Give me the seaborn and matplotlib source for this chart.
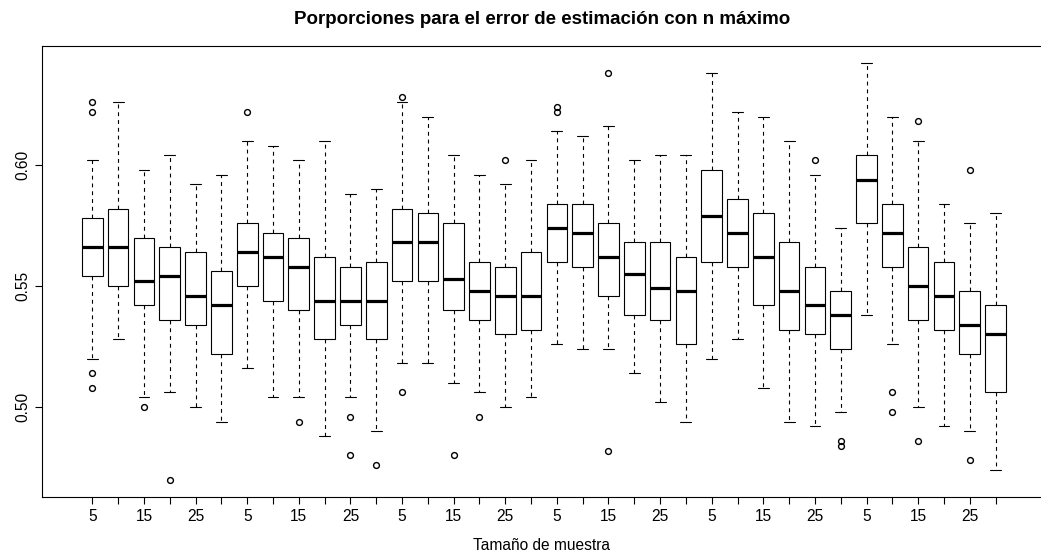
import numpy as np
import pandas as pd
import matplotlib
matplotlib.use("Agg")
import matplotlib.pyplot as plt
import seaborn as sns

# ---- data ----
tamanos = [5, 10, 15, 20, 25, 30]
n_grupos = 6

bigote_inf = [0.520, 0.528, 0.504, 0.506, 0.500, 0.494,
              0.516, 0.504, 0.504, 0.488, 0.504, 0.490,
              0.518, 0.518, 0.510, 0.506, 0.500, 0.504,
              0.526, 0.524, 0.524, 0.514, 0.502, 0.494,
              0.520, 0.528, 0.508, 0.494, 0.492, 0.498,
              0.538, 0.526, 0.500, 0.492, 0.490, 0.474]
cuartil1 = [0.554, 0.550, 0.542, 0.536, 0.534, 0.522,
            0.550, 0.544, 0.540, 0.528, 0.534, 0.528,
            0.552, 0.552, 0.540, 0.536, 0.530, 0.532,
            0.560, 0.558, 0.546, 0.538, 0.536, 0.526,
            0.560, 0.558, 0.542, 0.532, 0.530, 0.524,
            0.576, 0.558, 0.536, 0.532, 0.522, 0.506]
mediana = [0.566, 0.566, 0.552, 0.554, 0.546, 0.542,
           0.564, 0.562, 0.558, 0.544, 0.544, 0.544,
           0.568, 0.568, 0.553, 0.548, 0.546, 0.546,
           0.574, 0.572, 0.562, 0.555, 0.549, 0.548,
           0.579, 0.572, 0.562, 0.548, 0.542, 0.538,
           0.594, 0.572, 0.550, 0.546, 0.534, 0.530]
cuartil3 = [0.578, 0.582, 0.570, 0.566, 0.564, 0.556,
            0.576, 0.572, 0.570, 0.562, 0.558, 0.560,
            0.582, 0.580, 0.576, 0.560, 0.558, 0.564,
            0.584, 0.584, 0.576, 0.568, 0.568, 0.562,
            0.598, 0.586, 0.580, 0.568, 0.558, 0.548,
            0.604, 0.584, 0.566, 0.560, 0.548, 0.542]
bigote_sup = [0.602, 0.626, 0.598, 0.604, 0.592, 0.596,
              0.610, 0.608, 0.602, 0.610, 0.588, 0.590,
              0.626, 0.620, 0.604, 0.596, 0.592, 0.602,
              0.614, 0.612, 0.616, 0.602, 0.604, 0.604,
              0.638, 0.622, 0.620, 0.610, 0.596, 0.574,
              0.642, 0.620, 0.610, 0.584, 0.576, 0.580]
atipicos = [[0.626, 0.622, 0.514, 0.508], [], [0.500], [0.470], [], [],
            [0.622], [], [0.494], [], [0.496, 0.480], [0.476],
            [0.628, 0.506], [], [0.480], [0.496], [0.602], [],
            [0.624, 0.622], [], [0.638, 0.482], [], [], [],
            [], [], [], [], [0.602], [0.486, 0.484],
            [], [0.506, 0.498], [0.618, 0.486], [], [0.598, 0.478], []]

etiquetas_x = [str(t) for t in tamanos] * n_grupos

# ---- build a sample per box whose box statistics equal the values above ----
rows = []
for i in range(len(mediana)):
    lo, hi = bigote_inf[i], bigote_sup[i]
    low_f = [v for v in atipicos[i] if v < lo]
    high_f = [v for v in atipicos[i] if v > hi]
    lows = low_f + [lo] * (2 - len(low_f))
    highs = high_f + [hi] * (2 - len(high_f))
    vals = (lows + [lo, lo] + [cuartil1[i]] * 4 + [mediana[i]]
            + [cuartil3[i]] * 4 + [hi, hi] + highs)
    for v in vals:
        rows.append({"caja": i, "valor": v})
df = pd.DataFrame(rows)

# ---- style ----
sns.set_theme(style="ticks")
plt.rcParams["font.family"] = ["Liberation Sans", "DejaVu Sans"]
for key in ["axes.edgecolor", "xtick.color", "ytick.color", "text.color",
            "axes.labelcolor", "xtick.labelcolor", "ytick.labelcolor"]:
    plt.rcParams[key] = "black"

W, H = 1041, 560
fig = plt.figure(figsize=(W / 100, H / 100), dpi=100)
ax = fig.add_axes([42.3 / W, 63 / H, (W - 42.3) / W, 451 / H])

sns.boxplot(
    data=df, x="caja", y="valor", order=list(range(len(mediana))),
    color="white", saturation=1, linecolor="black", linewidth=0.8,
    width=0.8, whis=(12.5, 87.5), ax=ax,
    medianprops=dict(linewidth=2.3, color="black"),
    whiskerprops=dict(linestyle=(0, (3.5, 3.5)), linewidth=0.8, color="black"),
    capprops=dict(linewidth=0.8, color="black"),
    flierprops=dict(marker="o", markerfacecolor="none", markeredgecolor="black",
                    markersize=4.2, markeredgewidth=1.0),
)

# widen whisker caps to R's staple width (half the box width)
for ln in ax.lines:
    x = np.asarray(ln.get_xdata(), dtype=float)
    y = np.asarray(ln.get_ydata(), dtype=float)
    if len(x) == 2 and y[0] == y[1] and 0 < abs(x[1] - x[0]) < 0.6:
        c = x.mean()
        ln.set_xdata([c - 0.21, c + 0.21])

ax.set_xlim(-1.94, 36.76)
ax.set_ylim(0.4628, 0.6492)

ax.set_xticks(range(len(etiquetas_x)))
ax.set_xticklabels([lab if j % 2 == 0 else "" for j, lab in enumerate(etiquetas_x)],
                   fontsize=11.2)
ax.set_yticks([0.50, 0.55, 0.60])
ax.set_yticklabels(["0.50", "0.55", "0.60"], rotation=90, va="center", fontsize=11.2)
ax.tick_params(axis="both", length=5, width=0.8, direction="out", pad=3.5)

ax.set_xlabel("Tamaño de muestra", fontsize=11.2, labelpad=10)
ax.set_ylabel("")
ax.set_title("Porporciones para el error de estimación con n máximo",
             fontsize=13.5, fontweight="bold", pad=16)

for side in ["top", "left", "bottom"]:
    ax.spines[side].set_visible(True)
    ax.spines[side].set_linewidth(0.8)
    ax.spines[side].set_color("black")
ax.spines["right"].set_visible(False)
ax.grid(False)

fig.savefig("out.png", dpi=100)
